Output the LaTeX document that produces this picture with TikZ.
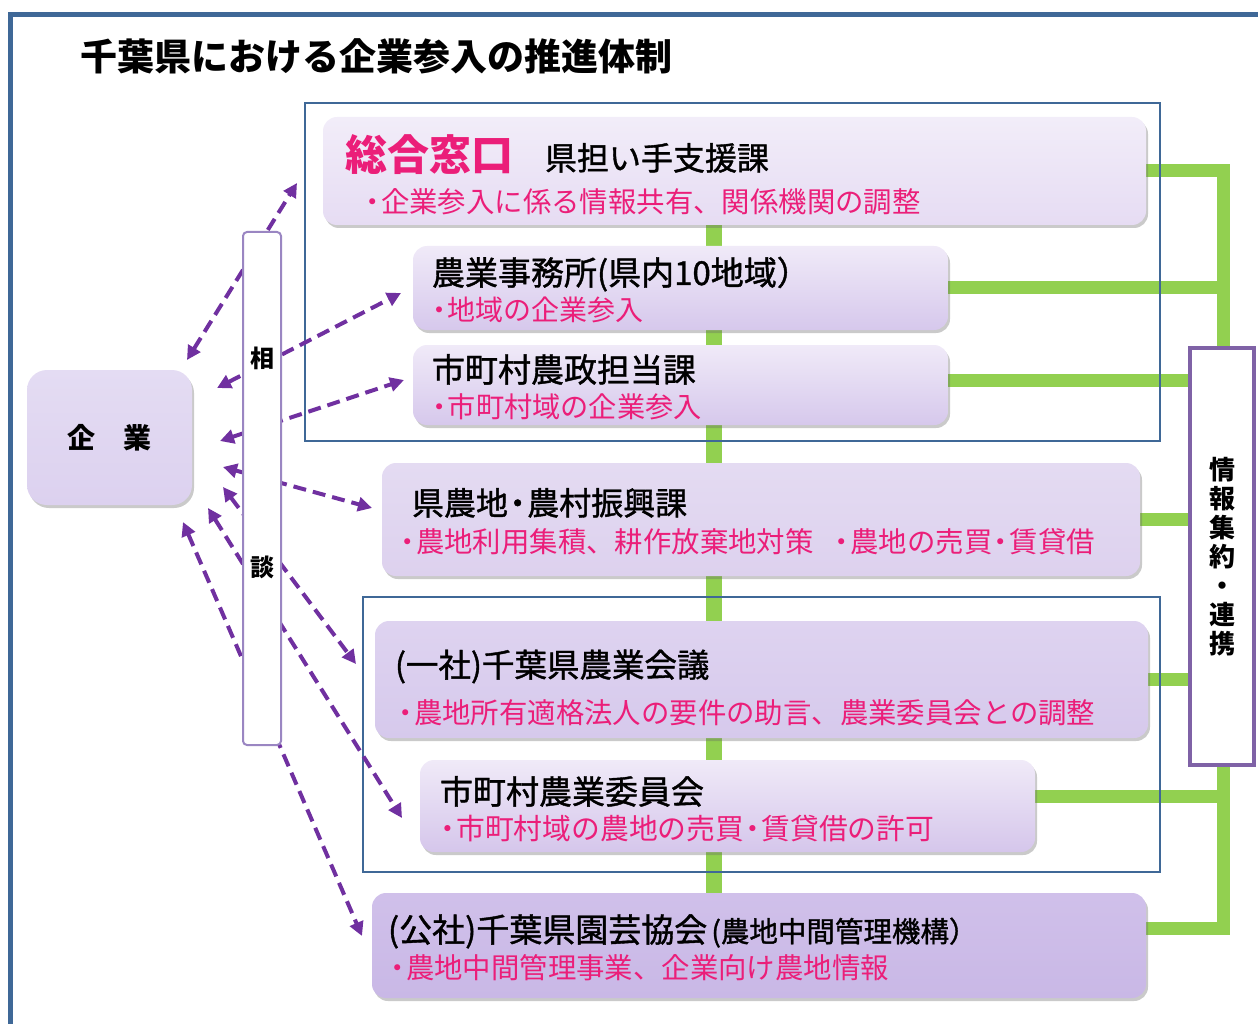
\documentclass[tikz,border=0pt]{standalone}
\usepackage{fontspec}
\setmainfont{Noto Sans CJK JP}
\newfontfamily\medfont{Noto Sans CJK JP}[FakeBold=1.2]
\usetikzlibrary{arrows.meta,shadows}
\pgfdeclarelayer{back}
\pgfsetlayers{back,main}
\definecolor{framec}{HTML}{3F6897}
\definecolor{greenc}{HTML}{92D050}
\definecolor{arrowc}{HTML}{7030A0}
\definecolor{pinkc}{HTML}{EB1E79}
\definecolor{sodanc}{HTML}{9A86C2}
\definecolor{infoc}{HTML}{7F62A6}
\definecolor{kgT}{HTML}{E4DCF3}\definecolor{kgB}{HTML}{DCD1EF}
\definecolor{c1T}{HTML}{F2EDF9}\definecolor{c1B}{HTML}{E6DCF3}
\definecolor{c2T}{HTML}{F0EAF8}\definecolor{c2B}{HTML}{D6C8EC}
\definecolor{c4T}{HTML}{E4DBF2}\definecolor{c4B}{HTML}{DDD1EE}
\definecolor{c5T}{HTML}{DED3F0}\definecolor{c5B}{HTML}{D6C9EC}
\definecolor{c6T}{HTML}{F0EAF8}\definecolor{c6B}{HTML}{D5C6EB}
\definecolor{c7T}{HTML}{D0C0EA}\definecolor{c7B}{HTML}{C9B8E6}
\newcommand\myfs[1]{\fontsize{#1pt}{#1pt}\selectfont}
\newcommand\ndot{\makebox[0.6em]{・}}
\begin{document}
\begin{tikzpicture}[x=1pt,y=-1pt,
  every node/.style={inner sep=0pt, outer sep=0pt},
  card/.style={rounded corners=14pt, anchor=north west,
    drop shadow={shadow xshift=2pt, shadow yshift=-3pt, opacity=0.35, fill=black!60}},
  lbl/.style={anchor=base west},
  head/.style={lbl, text=black},
  sub/.style={lbl, text=pinkc},
  grp/.style={draw=framec, line width=2.5pt, anchor=north west},
  purplearrow/.style={draw=arrowc, line width=4pt, dash pattern=on 13pt off 7pt,
    {Triangle[length=14pt,width=14pt]}-{Triangle[length=14pt,width=14pt]}},
  greenline/.style={draw=greenc, line width=13pt}
]
\useasboundingbox (0,0) rectangle (1258,1024);
% outer frame
\draw[framec, line width=5pt] (10,1024) -- (10,15) -- (1258,15);
\node[lbl, font=\myfs{37}\bfseries] (title) at (80,71) {千葉県における企業参入の推進体制};
% group frames
\node[grp, minimum width=855pt, minimum height=338pt] (grp1) at (305,103) {};
\node[grp, minimum width=797pt, minimum height=275pt] (grp2) at (363,597) {};
% arrow end points
\coordinate (aA1) at (187,360); \coordinate (aA2) at (297,183);
\coordinate (aB1) at (217,388); \coordinate (aB2) at (401,293);
\coordinate (aC1) at (220,441); \coordinate (aC2) at (404,380);
\coordinate (aD1) at (223,467); \coordinate (aD2) at (372,508);
\coordinate (aE1) at (223,487); \coordinate (aE2) at (356,664);
\coordinate (aF1) at (208,508); \coordinate (aF2) at (402,818);
\coordinate (aG1) at (183,522); \coordinate (aG2) at (362,936);
\draw[purplearrow] (aA1) -- (aA2);
\draw[purplearrow] (aB1) -- (aB2);
\draw[purplearrow] (aC1) -- (aC2);
\draw[purplearrow] (aD1) -- (aD2);
\draw[purplearrow] (aE1) -- (aE2);
\draw[purplearrow] (aF1) -- (aF2);
\draw[purplearrow] (aG1) -- (aG2);
% consultation bar
\node[draw=sodanc, line width=2pt, fill=white, rounded corners=4pt, anchor=north west,
  minimum width=38pt, minimum height=513pt] (sodan) at (243,232) {};
\node[font=\myfs{24}\bfseries] (so1) at (262,358) {相};
\node[font=\myfs{24}\bfseries] (so2) at (262,567) {談};
% company
\node[card, rounded corners=20pt, top color=kgT, bottom color=kgB,
  minimum width=165pt, minimum height=135pt, font=\myfs{28}\bfseries] (kigyo) at (27,370) {企　業};
% cards
\node[card, top color=c1T, bottom color=c1B, minimum width=823pt, minimum height=108pt] (b1) at (323,117) {};
\node[card, top color=c2T, bottom color=c2B, minimum width=535pt, minimum height=84pt] (b2) at (413,246) {};
\node[card, top color=c2T, bottom color=c2B, minimum width=535pt, minimum height=80pt] (b3) at (413,345) {};
\node[card, top color=c4T, bottom color=c4B, minimum width=758pt, minimum height=113pt] (b4) at (382,463) {};
\node[card, top color=c5T, bottom color=c5B, minimum width=773pt, minimum height=117pt] (b5) at (375,621) {};
\node[card, top color=c6T, bottom color=c6B, minimum width=615pt, minimum height=92pt] (b6) at (420,760) {};
\node[card, top color=c7T, bottom color=c7B, minimum width=774pt, minimum height=105pt] (b7) at (372,893) {};
% info box
\node[draw=infoc, line width=3.5pt, fill=white, anchor=north west, align=center,
  minimum width=64pt, minimum height=417pt,
  font=\fontsize{26pt}{29pt}\selectfont\bfseries] (info) at (1190,348) {情\\報\\集\\約\\・\\連\\携};
% green links
\coordinate (cx) at (714,0);
\coordinate (rx) at (1223,0);
\begin{pgfonlayer}{back}
\draw[greenline, line width=16pt] (b1.south -| cx) -- (b7.north -| cx);
\draw[greenline, line join=miter] (b1.east) -- (b1.east -| rx) -- (info.north -| rx);
\draw[greenline] (b2.east) -- (b2.east -| rx);
\draw[greenline] ([yshift=5pt]b3.east) -- ([yshift=5pt]b3.east -| info.west);
\draw[greenline] (b4.east) -- (b4.east -| info.west);
\draw[greenline] (b5.east) -- (b5.east -| info.west);
\draw[greenline] ([yshift=10pt]b6.east) -- ([yshift=10pt]b6.east -| rx);
\draw[greenline, line join=miter] ([yshift=17pt]b7.east) -| (info.south -| rx);
\end{pgfonlayer}
% texts
\node[lbl, text=pinkc, font=\myfs{42}\bfseries] (b1a) at (345,171) {総合窓口};
\node[head, font=\myfs{32}\medfont] (b1b) at (545,170) {県担い手支援課};
\node[sub, font=\myfs{28.4}] (b1c) at (364,213) {\ndot 企業参入に係る情報共有、関係機関の調整};
\node[head, font=\myfs{33}\medfont] (b2a) at (432,285) {農業事務所(県内10地域）};
\node[sub, font=\myfs{28}] (b2b) at (431,320) {\ndot 地域の企業参入};
\node[head, font=\myfs{33}\medfont] (b3a) at (432,382) {市町村農政担当課};
\node[sub, font=\myfs{28.2}] (b3b) at (431,417) {\ndot 市町村域の企業参入};
\node[head, font=\myfs{32}\medfont] (b4a) at (412,515) {県農地\ndot 農村振興課};
\node[sub, font=\myfs{28.4}] (b4b) at (399,552) {\ndot 農地利用集積、耕作放棄地対策\hspace{0.7em}\ndot 農地の売買\ndot 賃貸借};
\node[head, font=\myfs{32.5}\medfont] (b5a) at (395,677) {(一社)千葉県農業会議};
\node[sub, font=\myfs{28.4}] (b5b) at (397,723) {\ndot 農地所有適格法人の要件の助言、農業委員会との調整};
\node[head, font=\myfs{33}\medfont] (b6a) at (440,804) {市町村農業委員会};
\node[sub, font=\myfs{28.8}] (b6b) at (439,839) {\ndot 市町村域の農地の売買\ndot 賃貸借の許可};
\node[head, font=\myfs{33}\medfont] (b7a) at (388,942) {(公社)千葉県園芸協会};
\node[head, font=\myfs{28.5}\medfont, anchor=base west] (b7b) at (b7a.base east) {\hspace{4pt}(農地中間管理機構）};
\node[sub, font=\myfs{28.4}] (b7c) at (389,978) {\ndot 農地中間管理事業、企業向け農地情報};
\end{tikzpicture}
\end{document}
